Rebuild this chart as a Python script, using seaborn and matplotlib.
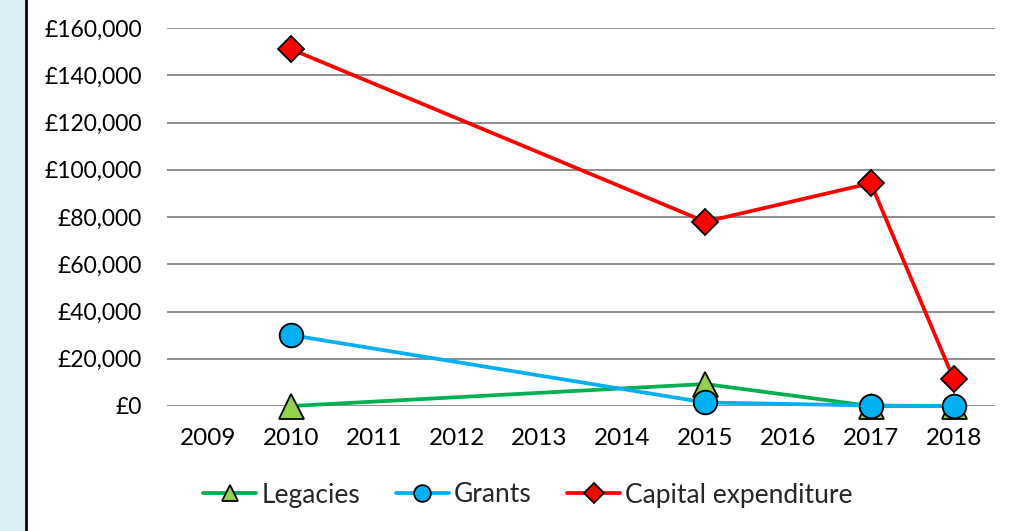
import matplotlib
matplotlib.use("Agg")
import matplotlib.pyplot as plt
import seaborn as sns
import pandas as pd
from matplotlib.lines import Line2D
from matplotlib.patches import Rectangle
from matplotlib.ticker import FuncFormatter

# =========================
# DATA
# =========================
years = ["2009", "2010", "2011", "2012", "2013", "2014", "2015", "2016", "2017", "2018"]

legacy_years = ["2010", "2015", "2017", "2018"]
legacies = [0, 9300, 0, 0]

grant_years = ["2010", "2015", "2017", "2018"]
grants = [30000, 1500, 200, 0]

capex_years = ["2010", "2015", "2017", "2018"]
capex = [151000, 78000, 94300, 11500]

# =========================
# STYLE
# =========================
sns.set_theme(style="white")
plt.rcParams['font.family'] = ['Lato', 'DejaVu Sans']

fig = plt.figure(figsize=(10.23, 5.31), dpi=100)
fig.patch.set_facecolor("white")

# light blue strip on the left + black divider
fig.patches.append(Rectangle((0, 0), 25 / 1023, 1, transform=fig.transFigure,
                             facecolor="#DAEEF3", edgecolor="none", zorder=0))
fig.add_artist(Line2D([26 / 1023, 26 / 1023], [0, 1], transform=fig.transFigure,
                      color="black", linewidth=2))

ax = fig.add_axes([167 / 1023, 125 / 531, 828 / 1023, 378 / 531])

series = [
    ("Legacies", legacy_years, legacies, "#00B050", "^", "#92D050"),
    ("Grants", grant_years, grants, "#00B0F0", "o", "#00B0F0"),
    ("Capital expenditure", capex_years, capex, "#FF0000", "D", "#FF0000"),
]

handles = []
for i, (name, yrs, vals, col, mk, fill) in enumerate(series):
    df = pd.DataFrame({"x": [years.index(y) for y in yrs], "value": vals})
    sns.lineplot(data=df, x="x", y="value", ax=ax, color=col, linewidth=2.7,
                 marker=mk, markersize=18 if mk == "^" else (17 if mk == "o" else 13),
                 markerfacecolor=fill, markeredgecolor="black",
                 markeredgewidth=1.3, zorder=3 + i, clip_on=False)
    handles.append(Line2D([], [], color=col, linewidth=2.7, marker=mk,
                          markersize=12 if mk != "D" else 10,
                          markerfacecolor=fill, markeredgecolor="black",
                          markeredgewidth=1.3, label=name))

ax.set_xlim(-0.5, len(years) - 0.5)
ax.set_ylim(0, 160000)
ax.set_xticks(range(len(years)))
ax.set_xticklabels(years)
ax.set_yticks(range(0, 160001, 20000))
ax.yaxis.set_major_formatter(FuncFormatter(lambda v, p: f"£{int(v):,}"))

ax.grid(axis="y", color="#868686", linewidth=1.3)
ax.set_axisbelow(True)
for s in ax.spines.values():
    s.set_visible(False)
ax.tick_params(axis="y", length=0, pad=18, labelsize=16.5, labelcolor="black")
ax.tick_params(axis="x", length=0, pad=16, labelsize=17.5, labelcolor="black")
ax.set_xlabel("")
ax.set_ylabel("")

leg = fig.legend(handles=handles, loc="center", bbox_to_anchor=(528 / 1023, 1 - 495 / 531),
                 ncol=3, frameon=False, fontsize=19, handlelength=2.0,
                 columnspacing=1.35, handletextpad=0.2)

plt.savefig("out.png", dpi=100)
